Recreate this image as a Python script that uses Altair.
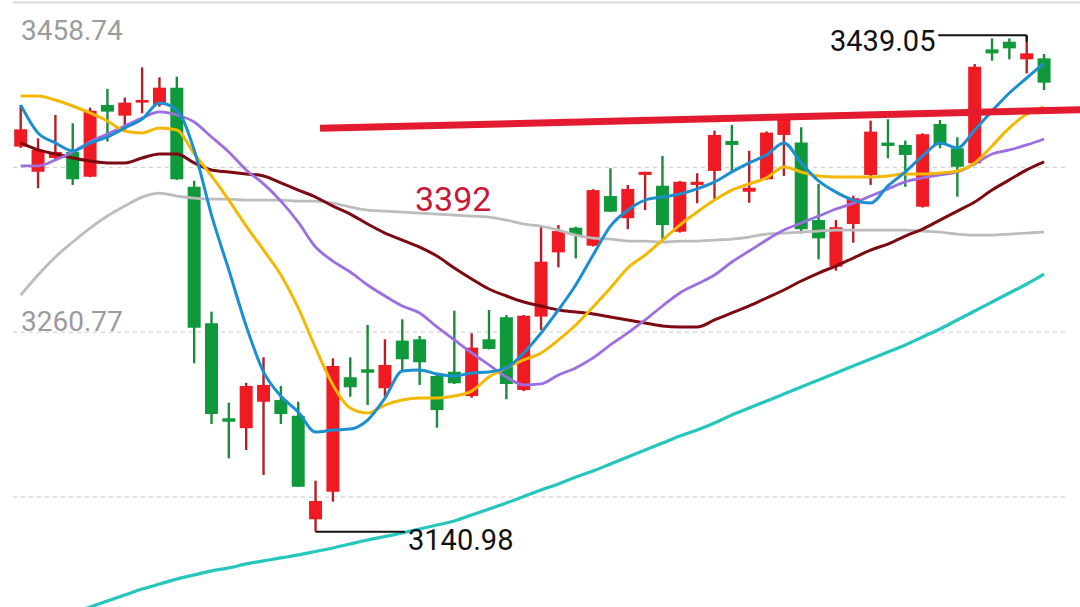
import altair as alt
import pandas as pd

# ---------------- data ----------------
idx = list(range(60))

opens = [3372.2, 3357.1, 3365.4, 3369.1, 3354.1, 3397.2, 3390.8, 3398.6, 3397.2, 3407.6,
         3348.1, 3266.1, 3209.1, 3203.1, 3219.0, 3220.0, 3210.6, 3148.4, 3165.0, 3233.7,
         3238.5, 3227.1, 3255.7, 3256.5, 3234.5, 3237.0, 3222.4, 3256.5, 3269.7, 3226.0,
         3270.1, 3308.7, 3323.5, 3312.7, 3342.5, 3329.2, 3355.2, 3348.7, 3321.1, 3349.2,
         3357.6, 3375.6, 3345.1, 3352.6, 3379.2, 3374.6, 3328.1, 3300.1, 3325.7, 3355.2,
         3374.6, 3373.2, 3336.1, 3385.8, 3371.2, 3362.2, 3430.6, 3435.2, 3424.6, 3425.2]

closes = [3382.6, 3370.2, 3369.0, 3352.6, 3393.8, 3393.2, 3398.6, 3400.2, 3407.6, 3352.6,
          3263.5, 3211.6, 3207.0, 3228.5, 3229.1, 3211.6, 3168.0, 3159.4, 3240.5, 3227.7,
          3236.4, 3241.1, 3244.5, 3242.7, 3214.0, 3230.1, 3251.5, 3250.7, 3229.7, 3270.7,
          3303.1, 3321.5, 3319.1, 3346.1, 3333.1, 3346.8, 3357.1, 3325.1, 3351.1, 3351.1,
          3379.2, 3373.2, 3347.5, 3380.6, 3389.4, 3322.6, 3317.1, 3323.8, 3341.2, 3381.2,
          3372.6, 3367.2, 3379.6, 3373.2, 3360.1, 3420.2, 3428.2, 3431.2, 3428.2, 3410.6]

highs = [3397.2, 3377.2, 3391.2, 3386.2, 3395.6, 3406.8, 3401.6, 3419.8, 3413.8, 3414.2,
         3351.7, 3273.1, 3218.4, 3230.4, 3245.7, 3228.5, 3219.0, 3171.6, 3245.1, 3245.7,
         3265.1, 3256.5, 3268.5, 3258.5, 3235.1, 3273.7, 3260.1, 3274.1, 3271.1, 3271.1,
         3324.5, 3325.1, 3324.1, 3346.6, 3359.2, 3349.2, 3357.1, 3366.6, 3351.6, 3356.2,
         3381.8, 3385.2, 3369.7, 3381.3, 3391.8, 3383.8, 3349.8, 3328.1, 3342.7, 3387.8,
         3388.6, 3375.8, 3380.2, 3388.2, 3377.8, 3421.8, 3437.2, 3437.2, 3439.05, 3427.8]

lows = [3371.4, 3347.2, 3363.6, 3349.2, 3353.8, 3375.2, 3381.2, 3392.2, 3396.2, 3352.2,
        3242.1, 3205.6, 3185.0, 3190.0, 3175.0, 3205.6, 3167.8, 3140.98, 3159.0, 3222.0,
        3217.0, 3222.0, 3238.1, 3229.1, 3203.4, 3229.7, 3221.4, 3250.4, 3220.5, 3225.4,
        3262.1, 3299.7, 3305.1, 3312.2, 3332.9, 3322.6, 3334.1, 3315.1, 3320.6, 3338.2,
        3339.7, 3357.1, 3338.5, 3352.2, 3354.6, 3320.1, 3304.5, 3297.7, 3314.5, 3349.2,
        3365.2, 3348.1, 3335.6, 3371.2, 3342.1, 3361.8, 3423.8, 3424.6, 3416.2, 3406.2]

ma_blue = [3397.2, 3380.4, 3374.4, 3369.6, 3374.4, 3378.0, 3383.4, 3388.8, 3398.4, 3394.2,
           3370.2, 3331.1, 3298.1, 3264.5, 3236.9, 3222.4, 3212.8, 3200.8, 3202.0, 3202.6,
           3208.0, 3221.2, 3237.5, 3238.1, 3235.7, 3234.5, 3236.3, 3236.9, 3239.3, 3248.3,
           3260.3, 3274.1, 3289.1, 3307.1, 3324.5, 3334.1, 3340.1, 3341.9, 3343.7, 3346.8,
           3351.0, 3357.0, 3362.4, 3367.2, 3374.4, 3362.4, 3351.6, 3344.9, 3340.1, 3338.3,
           3348.6, 3357.0, 3366.6, 3374.4, 3371.4, 3382.2, 3393.6, 3404.4, 3413.4, 3422.4]

ma_yellow = [3402.6, 3402.6, 3400.2, 3396.6, 3392.4, 3387.6, 3381.6, 3380.4, 3383.4, 3382.2,
             3368.0, 3354.6, 3340.1, 3324.5, 3310.1, 3295.1, 3275.3, 3251.3, 3229.1, 3215.2,
             3212.2, 3217.0, 3220.0, 3221.2, 3221.2, 3222.4, 3225.4, 3233.9, 3239.3, 3244.1,
             3248.3, 3256.1, 3265.1, 3275.9, 3287.3, 3299.3, 3307.1, 3316.1, 3325.1, 3332.9,
             3340.1, 3346.1, 3349.8, 3353.4, 3360.0, 3357.0, 3354.6, 3354.0, 3354.0, 3354.0,
             3354.6, 3355.8, 3355.8, 3356.4, 3357.6, 3362.4, 3372.6, 3383.4, 3391.8, 3396.0]

ma_purple = [3360.6, 3360.6, 3364.2, 3369.0, 3375.0, 3379.8, 3384.6, 3389.4, 3393.0, 3391.2,
             3387.0, 3378.0, 3369.0, 3358.2, 3349.8, 3339.5, 3326.9, 3311.9, 3303.5, 3296.9,
             3289.1, 3282.5, 3276.5, 3272.3, 3263.9, 3256.1, 3248.3, 3241.1, 3233.9, 3229.1,
             3229.7, 3235.1, 3239.3, 3245.3, 3253.1, 3260.3, 3268.1, 3276.5, 3284.3, 3289.7,
             3295.1, 3302.9, 3309.5, 3316.1, 3322.1, 3326.3, 3330.5, 3334.7, 3338.3, 3342.5,
             3346.8, 3351.0, 3353.4, 3355.2, 3357.0, 3361.8, 3367.8, 3370.2, 3373.2, 3376.8]

ma_darkred = [3374.4, 3370.2, 3367.8, 3365.4, 3363.6, 3362.4, 3362.4, 3365.4, 3367.8, 3367.8,
              3362.4, 3358.2, 3357.0, 3355.8, 3354.6, 3350.4, 3346.1, 3341.9, 3336.5, 3331.7,
              3325.7, 3320.3, 3316.1, 3311.9, 3306.5, 3299.3, 3292.7, 3286.7, 3282.5, 3278.9,
              3276.5, 3274.1, 3272.9, 3271.7, 3269.9, 3268.1, 3266.3, 3264.5, 3263.9, 3263.9,
              3268.1, 3272.3, 3276.5, 3281.3, 3286.1, 3291.5, 3296.3, 3300.5, 3305.3, 3310.1,
              3313.7, 3318.5, 3322.7, 3328.1, 3333.5, 3338.9, 3346.1, 3352.2, 3358.2, 3363.0]

ma_gray = [3283.1, 3295.1, 3305.9, 3314.9, 3323.3, 3330.5, 3336.5, 3341.9, 3344.3, 3342.5,
           3341.3, 3340.7, 3340.7, 3340.1, 3340.1, 3340.1, 3339.5, 3339.5, 3338.3, 3335.9,
           3334.1, 3333.5, 3332.9, 3332.3, 3331.7, 3331.1, 3330.5, 3329.9, 3328.1, 3325.7,
           3324.5, 3322.1, 3319.1, 3317.3, 3316.7, 3315.5, 3315.5, 3314.9, 3315.5, 3315.5,
           3316.1, 3316.7, 3317.9, 3319.7, 3320.3, 3320.9, 3321.5, 3322.1, 3322.1, 3322.1,
           3322.1, 3322.1, 3321.5, 3320.9, 3319.7, 3319.1, 3319.1, 3319.7, 3320.3, 3320.9]

teal_start = 3
ma_teal = [3092.7, 3095.7, 3099.3, 3102.9, 3106.5, 3109.5, 3112.5, 3115.0, 3117.4, 3119.2,
           3121.6, 3123.4, 3125.2, 3127.0, 3129.1, 3131.2, 3133.6, 3136.0, 3138.1, 3140.2,
           3142.6, 3145.0, 3147.4, 3151.0, 3154.6, 3158.2, 3162.1, 3166.0, 3169.6, 3173.8,
           3177.4, 3181.6, 3185.8, 3190.0, 3194.2, 3198.4, 3202.0, 3206.2, 3211.0, 3215.2,
           3219.4, 3223.6, 3227.9, 3232.1, 3236.3, 3240.5, 3244.7, 3248.9, 3253.1, 3257.9,
           3262.7, 3268.1, 3273.5, 3278.9, 3284.3, 3289.7, 3295.7]

grid_dashed = [3359.755, 3260.77, 3161.785]
grid_top = [3458.74]

trend_idx = [17.26, 61.1]
trend_val = [3383.2, 3394.4]

high_label = "3439.05"
high_idx = [52.9, 58.0]
high_val = 3439.05
high_tick_val = 3435.2
low_label = "3140.98"
low_idx = [17.0, 22.16]
low_val = 3140.98

# ---------------- scales ----------------
X_DOMAIN = [-1.1934, 61.072]
Y_DOMAIN = [3095.74, 3460.24]


def X(field="i"):
    return alt.X(f"{field}:Q", scale=alt.Scale(domain=X_DOMAIN, nice=False, zero=False), axis=None)


def Y(field="v"):
    return alt.Y(f"{field}:Q", scale=alt.Scale(domain=Y_DOMAIN, nice=False, zero=False), axis=None)


candles = pd.DataFrame({"i": idx, "open": opens, "close": closes, "high": highs, "low": lows})
candles["up"] = [c >= o for o, c in zip(opens, closes)]
is_up = alt.datum.close >= alt.datum.open

layers = []

# grid
gd = pd.DataFrame({"v": grid_dashed})
layers.append(alt.Chart(gd).mark_rule(color="#c9c9c9", strokeWidth=1, strokeDash=[4, 4]).encode(
    y=Y("v"), x=alt.value(13), x2=alt.value(1067)))
gt = pd.DataFrame({"v": grid_top})
layers.append(alt.Chart(gt).mark_rule(color="#d9d9d9", strokeWidth=2).encode(
    y=Y("v"), x=alt.value(13), x2=alt.value(1080)))

# candles
layers.append(alt.Chart(candles).mark_rule(strokeWidth=2.4).encode(
    x=X("i"), y=Y("low"), y2="high:Q",
    color=alt.condition(is_up, alt.value("#b3202a"), alt.value("#1a8a3c"))))
layers.append(alt.Chart(candles).mark_rule(strokeWidth=13, strokeCap="butt").encode(
    x=X("i"), y=Y("open"), y2="close:Q",
    color=alt.condition(is_up, alt.value("#f01a22"), alt.value("#0f993b"))))

# moving averages
series = [
    (ma_teal, teal_start, "#25c6bd", 3.2),
    (ma_gray, 0, "#bcbcbc", 2.8),
    (ma_darkred, 0, "#7c0a10", 3.0),
    (ma_purple, 0, "#9c6fe0", 2.8),
    (ma_yellow, 0, "#f3b800", 3.0),
    (ma_blue, 0, "#1b8fd0", 3.0),
]
for vals, start, col, w in series:
    df = pd.DataFrame({"i": list(range(start, start + len(vals))), "v": vals})
    layers.append(alt.Chart(df).mark_line(color=col, strokeWidth=w, clip=True, interpolate="monotone").encode(
        x=X("i"), y=Y("v")))

# red trend line
td = pd.DataFrame({"i": trend_idx, "v": trend_val})
layers.append(alt.Chart(td).mark_line(color="#e31b30", strokeWidth=7, strokeCap="butt", clip=True).encode(
    x=X("i"), y=Y("v")))

# high / low markers
hd = pd.DataFrame({"i": high_idx, "v": [high_val, high_val]})
layers.append(alt.Chart(hd).mark_line(color="#111111", strokeWidth=2).encode(x=X("i"), y=Y("v")))
htd = pd.DataFrame({"i": [high_idx[1]], "v": [high_val], "v2": [high_tick_val]})
layers.append(alt.Chart(htd).mark_rule(color="#111111", strokeWidth=2).encode(x=X("i"), y=Y("v"), y2="v2:Q"))
ld = pd.DataFrame({"i": low_idx, "v": [low_val, low_val]})
layers.append(alt.Chart(ld).mark_line(color="#111111", strokeWidth=2).encode(x=X("i"), y=Y("v")))

# texts
texts = pd.DataFrame({
    "t": ["3458.74", "3260.77", high_label, low_label, "3392"],
    "px": [21, 21, 830, 408, 415],
    "py": [40, 331, 51, 550, 211],
    "c": ["#9b9b9b", "#9b9b9b", "#111111", "#111111", "#c8183a"],
    "s": [28, 28, 29, 29, 34],
})
for _, r in texts.iterrows():
    layers.append(alt.Chart(pd.DataFrame({"t": [r["t"]]})).mark_text(
        align="left", baseline="alphabetic", font="Roboto", fontSize=int(r["s"]), color=r["c"]).encode(
        x=alt.value(int(r["px"])), y=alt.value(int(r["py"])), text="t:N"))

chart = alt.layer(*layers).properties(
    width=1080, height=607, padding=0,
    autosize=alt.AutoSizeParams(type="none"),
    background="white",
).configure_view(stroke=None)

chart.save("out.html", embed_options={"renderer": "svg", "actions": False})
